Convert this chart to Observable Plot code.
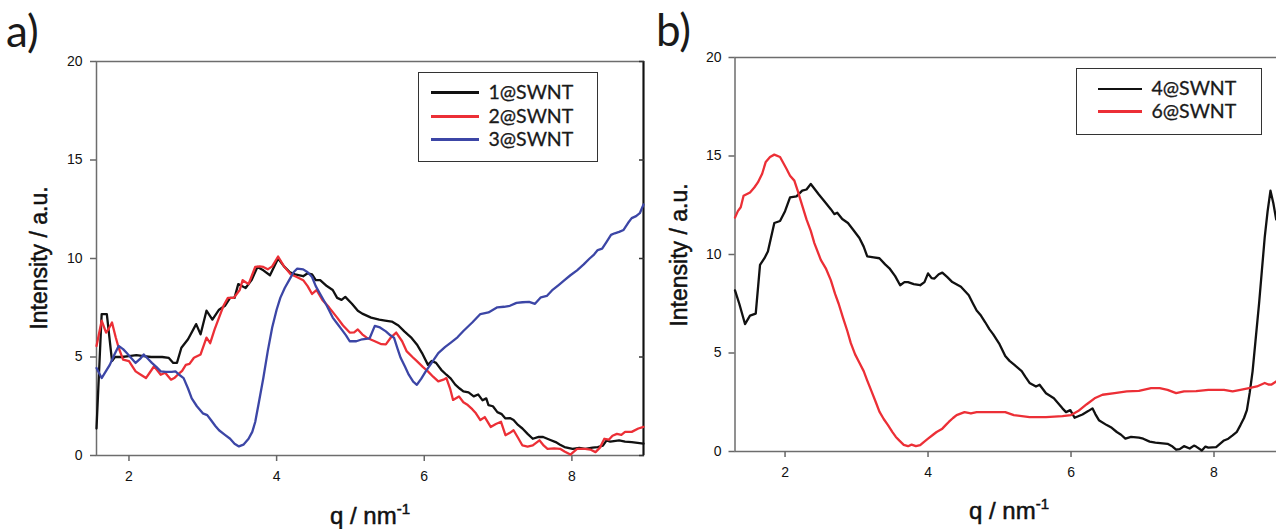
<!DOCTYPE html>
<html>
<head>
<meta charset="utf-8">
<script src="https://cdn.jsdelivr.net/npm/d3@7"></script>
<script src="https://cdn.jsdelivr.net/npm/@observablehq/plot@0.6"></script>
<style>
  html, body { margin: 0; padding: 0; background: #fff; overflow: hidden; }
  #root { position: relative; width: 1276px; height: 529px; overflow: hidden; background: #fff; }
  .panel { position: absolute; top: 0; }
  .legend { position: absolute; border: 1.5px solid #333; box-sizing: border-box; background: #fff; }
  .lrow { position: absolute; left: 0; right: 0; height: 0; }
  .lline { position: absolute; height: 2.5px; margin-top: -1.25px; }
  .ltext { position: absolute; font-family: Lato, "Open Sans", sans-serif; font-size: 19.5px; line-height: 20px; margin-top: -11px; color: #1a1a1a; white-space: nowrap; -webkit-text-stroke: 0.3px #1a1a1a; }
  #labels { position: absolute; left: 0; top: 0; pointer-events: none; }
</style>
</head>
<body>
<div id="root">
  <div id="pa" class="panel" style="left:0px"></div>
  <div id="pb" class="panel" style="left:640px"></div>
</div>
<script>
// ---------- data: panel a ----------
const seriesA = ["1@SWNT", "2@SWNT", "3@SWNT"];
const colorsA = ["#111111", "#ec2f36", "#3c46a6"];
const a1q = [1.56,1.63,1.70,1.77,1.81,1.90,2.0,2.1,2.2,2.3,2.45,2.54,2.6,2.65,2.71,2.8,2.91,2.97,3.05,3.13,3.22,3.3,3.37,3.43,3.48,3.58,3.66,3.74,3.82,3.91,4.02,4.1,4.18,4.25,4.36,4.42,4.48,4.53,4.59,4.68,4.76,4.82,4.88,4.93,5.02,5.1,5.16,5.22,5.28,5.39,5.47,5.56,5.65,5.73,5.82,5.9,5.97,6.05,6.1,6.16,6.23,6.3,6.36,6.42,6.48,6.53,6.6,6.67,6.73,6.79,6.84,6.87,6.93,6.99,7.05,7.1,7.16,7.21,7.27,7.33,7.4,7.47,7.55,7.61,7.7,7.78,7.84,7.9,8.01,8.1,8.18,8.28,8.35,8.42,8.47,8.52,8.64,8.72,8.81,8.97];
const a1v = [1.37,7.18,7.18,4.8,5.0,5.0,5.05,5.1,5.05,5.0,5.0,4.95,4.7,4.7,5.47,5.9,6.67,6.15,7.35,6.9,7.4,7.6,8.0,8.0,8.7,8.5,8.9,9.57,9.4,9.15,10.0,9.6,9.3,9.2,9.1,9.25,9.2,8.9,8.9,8.6,8.4,8.0,7.9,8.05,7.7,7.35,7.2,7.1,7.0,6.9,6.85,6.8,6.6,6.3,6.0,5.64,5.2,4.6,4.8,4.7,4.35,4.1,3.9,3.6,3.4,3.25,3.2,3.0,3.1,2.8,2.9,2.56,2.5,2.2,2.1,1.88,1.9,1.8,1.55,1.37,1.1,0.85,0.95,0.94,0.8,0.68,0.55,0.43,0.34,0.38,0.34,0.4,0.43,0.5,0.77,0.7,0.77,0.7,0.68,0.6];
const a2q = [1.56,1.63,1.69,1.72,1.77,1.82,1.86,1.92,2.0,2.05,2.09,2.16,2.23,2.28,2.34,2.43,2.49,2.57,2.62,2.66,2.72,2.77,2.82,2.88,2.97,3.05,3.1,3.16,3.22,3.28,3.34,3.42,3.5,3.54,3.62,3.71,3.77,3.82,3.88,3.94,4.02,4.1,4.19,4.28,4.36,4.42,4.48,4.54,4.62,4.71,4.82,4.9,4.99,5.05,5.1,5.16,5.22,5.33,5.42,5.48,5.55,5.62,5.7,5.76,5.84,5.9,5.98,6.05,6.12,6.19,6.26,6.3,6.35,6.39,6.47,6.53,6.59,6.65,6.7,6.76,6.82,6.9,6.97,7.04,7.1,7.16,7.21,7.27,7.33,7.4,7.47,7.56,7.62,7.67,7.76,7.84,7.9,7.98,8.07,8.18,8.25,8.32,8.38,8.44,8.5,8.55,8.61,8.67,8.72,8.81,8.9,8.97];
const a2v = [5.56,6.84,6.24,6.4,6.75,6.0,5.47,4.87,4.79,4.5,4.27,4.1,3.93,4.2,4.53,4.1,4.2,3.85,3.95,4.1,4.3,4.6,4.65,4.96,5.13,5.98,5.7,6.4,7.0,7.6,8.0,8.0,8.4,8.9,8.7,9.57,9.6,9.57,9.45,9.6,10.1,9.6,9.2,9.05,8.9,8.6,8.2,8.4,7.9,7.52,7.0,6.6,6.24,6.25,6.4,6.15,5.98,5.8,5.65,5.64,6.0,6.24,5.8,5.3,5.0,4.79,4.5,4.27,4.0,3.76,3.85,3.93,3.4,2.82,3.0,2.7,2.56,2.35,2.14,1.8,1.95,1.45,1.6,1.71,1.03,1.15,1.28,0.9,0.51,0.45,0.51,0.77,0.5,0.34,0.36,0.34,0.2,0.05,0.34,0.34,0.3,0.17,0.4,0.85,0.8,1.0,1.1,1.05,1.2,1.2,1.37,1.45];
const a3q = [1.56,1.63,1.69,1.74,1.8,1.86,1.92,1.97,2.03,2.09,2.15,2.2,2.26,2.31,2.37,2.43,2.5,2.58,2.63,2.68,2.74,2.8,2.85,2.92,3.0,3.06,3.11,3.17,3.22,3.3,3.37,3.43,3.49,3.55,3.62,3.67,3.71,3.76,3.82,3.88,3.94,4.0,4.05,4.11,4.17,4.23,4.28,4.36,4.42,4.48,4.53,4.59,4.68,4.76,4.82,4.88,4.94,4.99,5.08,5.16,5.26,5.33,5.4,5.48,5.54,5.59,5.64,5.68,5.74,5.79,5.85,5.9,5.96,6.02,6.1,6.19,6.28,6.36,6.45,6.53,6.65,6.76,6.87,6.99,7.08,7.16,7.25,7.33,7.42,7.5,7.58,7.66,7.73,7.82,7.9,7.98,8.07,8.16,8.24,8.3,8.35,8.41,8.47,8.53,8.58,8.64,8.7,8.76,8.81,8.87,8.92,8.97];
const a3v = [4.44,3.93,4.3,4.6,5.1,5.56,5.4,5.2,4.95,4.7,4.9,5.13,4.9,4.7,4.5,4.27,4.25,4.25,4.27,4.1,3.93,3.4,2.9,2.5,2.14,2.05,1.8,1.5,1.28,1.05,0.85,0.6,0.46,0.55,0.85,1.2,1.7,2.7,3.93,5.3,6.5,7.4,8.0,8.5,8.9,9.3,9.49,9.45,9.3,9.06,8.6,8.2,7.6,7.0,6.7,6.4,6.1,5.8,5.8,5.9,5.95,6.58,6.5,6.3,6.1,5.98,5.4,4.96,4.5,4.1,3.75,3.59,3.9,4.27,4.7,5.2,5.5,5.73,6.0,6.32,6.75,7.18,7.26,7.52,7.55,7.6,7.75,7.78,7.8,7.7,8.03,8.1,8.38,8.65,8.9,9.15,9.4,9.7,10.0,10.2,10.43,10.5,10.85,11.2,11.28,11.35,11.45,11.8,12.05,12.15,12.3,12.74];

// ---------- data: panel b ----------
const seriesB = ["4@SWNT", "6@SWNT"];
const colorsB = ["#111111", "#ec2f36"];
const b4q = [1.30,1.36,1.44,1.51,1.59,1.65,1.71,1.76,1.85,1.93,2.0,2.07,2.16,2.24,2.3,2.36,2.47,2.55,2.64,2.69,2.73,2.8,2.88,2.95,3.04,3.1,3.15,3.24,3.32,3.4,3.46,3.54,3.61,3.67,3.72,3.8,3.89,3.95,4.0,4.05,4.09,4.15,4.2,4.27,4.34,4.46,4.57,4.63,4.68,4.74,4.8,4.86,4.91,5.0,5.08,5.14,5.2,5.31,5.36,5.42,5.51,5.56,5.65,5.76,5.82,5.88,5.93,5.99,6.05,6.16,6.24,6.3,6.34,6.39,6.5,6.57,6.64,6.7,6.76,6.84,6.95,7.01,7.1,7.18,7.35,7.42,7.47,7.52,7.58,7.66,7.72,7.75,7.83,7.88,7.92,8.03,8.14,8.2,8.26,8.32,8.37,8.42,8.46,8.5,8.54,8.58,8.63,8.67,8.71,8.75,8.79,8.83,8.87];
const b4v = [8.18,7.5,6.47,6.9,7.0,9.47,9.8,10.15,11.6,11.7,12.2,12.9,12.95,13.24,13.3,13.58,13.06,12.7,12.3,12.05,12.12,11.8,11.6,11.27,10.84,10.4,9.9,9.85,9.81,9.5,9.3,8.9,8.44,8.6,8.6,8.5,8.44,8.6,9.04,8.8,8.78,9.0,9.08,8.85,8.6,8.36,7.93,7.5,7.16,6.9,6.56,6.2,5.96,5.45,4.85,4.6,4.42,4.08,3.8,3.48,3.3,3.39,2.96,2.7,2.45,2.19,2.0,2.1,1.71,1.88,2.05,2.19,1.9,1.59,1.34,1.2,0.99,0.85,0.65,0.74,0.7,0.65,0.5,0.45,0.39,0.25,0.09,0.12,0.27,0.15,0.3,0.25,0.05,0.25,0.2,0.22,0.56,0.65,0.82,1.0,1.34,1.7,2.1,3.0,4.08,5.6,7.5,9.2,10.9,12.2,13.24,12.6,11.78];
const b6q = [1.30,1.34,1.38,1.42,1.51,1.57,1.62,1.68,1.73,1.79,1.85,1.93,2.02,2.07,2.13,2.18,2.22,2.3,2.36,2.41,2.5,2.57,2.64,2.7,2.75,2.81,2.87,2.92,2.98,3.04,3.1,3.15,3.21,3.27,3.32,3.38,3.44,3.5,3.55,3.6,3.66,3.72,3.77,3.83,3.89,3.94,4.0,4.07,4.12,4.2,4.25,4.29,4.35,4.4,4.51,4.6,4.68,4.85,5.08,5.2,5.42,5.65,5.88,6.0,6.1,6.22,6.33,6.44,6.61,6.78,6.95,7.12,7.24,7.35,7.47,7.58,7.75,7.92,8.14,8.26,8.37,8.49,8.6,8.71,8.76,8.8,8.87];
const b6v = [11.87,12.2,12.4,12.98,13.15,13.4,13.66,14.1,14.7,14.95,15.07,14.95,14.35,14.0,13.75,13.2,12.72,11.78,11.2,10.58,9.73,9.3,8.7,8.0,7.5,6.8,6.13,5.5,4.93,4.5,4.08,3.6,3.05,2.5,2.02,1.65,1.34,1.0,0.74,0.55,0.34,0.27,0.35,0.27,0.32,0.48,0.65,0.85,0.99,1.16,1.35,1.5,1.7,1.85,2.0,1.93,2.0,2.0,2.0,1.85,1.75,1.75,1.8,1.85,2.05,2.4,2.7,2.88,2.96,3.05,3.08,3.22,3.22,3.13,2.96,3.05,3.06,3.13,3.13,3.05,3.13,3.22,3.3,3.48,3.4,3.39,3.56];

// ---------- axes ----------
const xTicks = [2, 4, 6, 8];
const yTicks = [0, 5, 10, 15, 20];
const yDomain = [0, 20];
const xDomainA = [1.56, 8.97];
const xDomainB = [1.30, 9.0];
const xTitle = "q / nm";
const xTitleSup = "-1";
const yTitle = "Intensity / a.u.";
const panelLabels = ["a)", "b)"];

function toRows(qs, vs, name) { return qs.map((q, i) => ({q, v: vs[i], name})); }

const plotStyle = {background: "transparent", maxWidth: "none", overflow: "visible",
  fontFamily: "'Liberation Sans', Arial, sans-serif", fontSize: "14px", color: "#111"};

function makePanel({width, height, mLeft, mRight, mTop, mBottom, xDomain, series, colors, rows, rightRule, tickPadY}) {
  const marks = [Plot.frame({stroke: "#6d6d6d", strokeWidth: 1.5})];
  if (rightRule) marks.push(Plot.ruleX([xDomain[1]], {stroke: "#111", strokeWidth: 2}));
  marks.push(
    Plot.axisX(xTicks, {tickSize: 6, tickPadding: 10, stroke: "#666", fill: "#111", fontSize: 14, strokeWidth: 1.5}),
    Plot.axisY(yTicks, {tickSize: 6, tickPadding: tickPadY, stroke: "#666", fill: "#111", fontSize: 14, strokeWidth: 1.5}),
    Plot.axisY(yTicks, {anchor: "right", tickSize: -5, tickFormat: () => "", stroke: "#333", strokeWidth: 1.5})
  );
  rows.forEach((r, i) => marks.push(Plot.line(r, {x: "q", y: "v", stroke: colors[i], strokeWidth: 2.3})));
  return Plot.plot({
    width, height, marginLeft: mLeft, marginRight: mRight, marginTop: mTop, marginBottom: mBottom,
    x: {domain: xDomain, label: null},
    y: {domain: yDomain, label: null},
    style: plotStyle,
    marks
  });
}

const rowsA = [toRows(a1q, a1v, seriesA[0]), toRows(a2q, a2v, seriesA[1]), toRows(a3q, a3v, seriesA[2])];
const rowsB = [toRows(b4q, b4v, seriesB[0]), toRows(b6q, b6v, seriesB[1])];

document.getElementById("pa").appendChild(makePanel({
  width: 660, height: 529, mLeft: 96, mRight: 17, mTop: 61, mBottom: 74,
  xDomain: xDomainA, series: seriesA, colors: colorsA, rows: rowsA, rightRule: true, tickPadY: 8
}));
document.getElementById("pb").appendChild(makePanel({
  width: 655, height: 529, mLeft: 94.5, mRight: 10, mTop: 57, mBottom: 78,
  xDomain: xDomainB, series: seriesB, colors: colorsB, rows: rowsB, rightRule: false, tickPadY: 7.5
}));

// ---------- legends ----------
const root = document.getElementById("root");
function legend(box, names, colors) {
  const d = document.createElement("div");
  d.className = "legend";
  Object.assign(d.style, {left: box.x + "px", top: box.y + "px", width: box.w + "px", height: box.h + "px"});
  names.forEach((n, i) => {
    const r = document.createElement("div");
    r.className = "lrow";
    r.style.top = (box.rows[i] - box.y - 1.5) + "px";
    const l = document.createElement("div");
    l.className = "lline";
    Object.assign(l.style, {left: (box.lx - box.x - 1.5) + "px", width: box.lw + "px", background: colors[i]});
    const t = document.createElement("div");
    t.className = "ltext";
    t.style.left = (box.tx - box.x - 1.5) + "px";
    t.textContent = n;
    r.appendChild(l); r.appendChild(t);
    d.appendChild(r);
  });
  root.appendChild(d);
}
legend({x: 418, y: 71.5, w: 180, h: 90, lx: 431, lw: 48, tx: 489, rows: [93, 117, 140]}, seriesA, colorsA);
legend({x: 1076, y: 68, w: 186, h: 67, lx: 1098, lw: 44, tx: 1152, rows: [89.5, 112]}, seriesB, colorsB);

// ---------- titles ----------
const ns = "http://www.w3.org/2000/svg";
const svg = document.createElementNS(ns, "svg");
svg.setAttribute("id", "labels");
svg.setAttribute("width", 1276); svg.setAttribute("height", 529);
function txt(s, attrs) {
  const t = document.createElementNS(ns, "text");
  for (const k in attrs) t.setAttribute(k, attrs[k]);
  t.textContent = s;
  svg.appendChild(t);
  return t;
}
const labelFont = "Lato, 'Open Sans', sans-serif";
const axisFont = "'Liberation Sans', Arial, sans-serif";
txt(panelLabels[0], {x: 6, y: 47, "font-family": labelFont, "font-size": 44, fill: "#1a1a1a"});
txt(panelLabels[1], {x: 656, y: 46, "font-family": labelFont, "font-size": 44, fill: "#1a1a1a"});
[[39, 258], [679, 255]].forEach(([cx, cy]) => {
  txt(yTitle, {transform: `translate(${cx},${cy}) rotate(-90)`, "text-anchor": "middle", "dominant-baseline": "central",
    "font-family": axisFont, "font-size": 23, fill: "#111", stroke: "#111", "stroke-width": 0.5});
});
[[370, 524], [1009, 519]].forEach(([cx, by]) => {
  const t = txt("", {x: cx, y: by, "text-anchor": "middle", "font-family": axisFont, "font-size": 24, fill: "#111", stroke: "#111", "stroke-width": 0.5});
  const s1 = document.createElementNS(ns, "tspan"); s1.textContent = xTitle;
  const s2 = document.createElementNS(ns, "tspan"); s2.textContent = xTitleSup;
  s2.setAttribute("dy", -10); s2.setAttribute("font-size", 15);
  t.appendChild(s1); t.appendChild(s2);
});
root.appendChild(svg);
</script>
</body>
</html>
